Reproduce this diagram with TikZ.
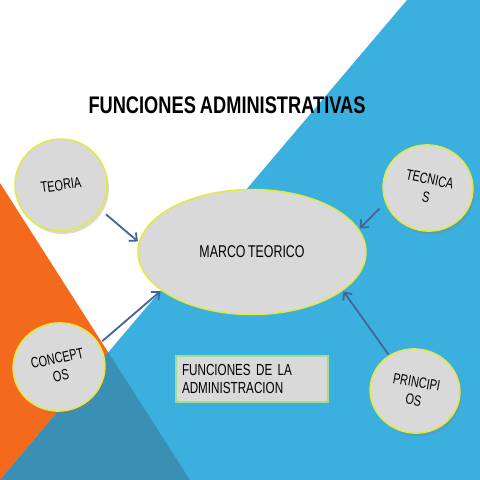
\documentclass[tikz,border=0pt]{standalone}
\usepackage{fontspec}
\setmainfont{Liberation Sans}
\newfontfamily\narrowfont[FakeStretch=0.73,WordSpace=0.7]{Liberation Sans}
\newfontfamily\titlefont[FakeStretch=0.76,WordSpace=0.8]{Liberation Sans}
\usetikzlibrary{shapes.geometric,shadows,arrows.meta}

\definecolor{skyblue}{HTML}{3BB0DE}
\definecolor{tealblue}{HTML}{3A8FB4}
\definecolor{slideorange}{HTML}{F36A1C}
\definecolor{bubblegray}{HTML}{D9D9D9}
\definecolor{rimyellow}{HTML}{E3EA3E}
\definecolor{boxgreen}{HTML}{A3DC8C}
\definecolor{arrowblue}{HTML}{44659B}

\tikzset{
    bubble/.style={ellipse, fill=bubblegray, draw=rimyellow, line width=1.5pt,
        inner sep=0pt, align=center, text=black,
        font=\narrowfont\fontsize{15pt}{18pt}\selectfont,
        drop shadow={opacity=0.3, shadow xshift=2pt, shadow yshift=-3pt}},
    link/.style={draw=arrowblue, line width=1.8pt}
}

\begin{document}
\begin{tikzpicture}[x=1pt, y=-1pt, >={Straight Barb[length=6pt,width=11pt]}, shorten >=1pt]

        \useasboundingbox (0,0) rectangle (480,480);
        \fill[white]       (0,0) rectangle (480,480);
        \fill[skyblue]     (407,0) -- (480,0) -- (480,480) -- (0,480) -- cycle;
        \fill[slideorange] (0,183) -- (108,352) -- (0,480) -- cycle;
        \fill[tealblue]    (108,352) -- (190,480) -- (0,480) -- cycle;

        \node (title) at (227,105) {\titlefont\bfseries\fontsize{24pt}{28pt}\selectfont FUNCIONES ADMINISTRATIVAS};

        \node[ellipse, fill=bubblegray, draw=rimyellow, line width=1.5pt, minimum width=228pt, minimum height=125pt,
              font=\narrowfont\fontsize{17pt}{20pt}\selectfont, text=black] (marco) at (252,252) {MARCO TEORICO};

        \node[bubble, minimum width=92pt, minimum height=92pt, rotate=8]   (teoria)  at (61,185)  {TEORIA};
        \node[bubble, minimum width=90pt, minimum height=86pt, rotate=-12] (tecnica) at (428,188) {TECNICA\\S};
        \node[bubble, minimum width=92pt, minimum height=88pt, rotate=12]  (concept) at (59,367)  {CONCEPT\\OS};
        \node[bubble, minimum width=90pt, minimum height=84pt, rotate=-10] (princip) at (415,391) {PRINCIPI\\OS};

        \node[rectangle, fill=bubblegray, draw=boxgreen, line width=1.5pt, inner sep=6pt, text width=140pt,
              minimum height=46pt, align=left, text=black,
              font=\narrowfont\fontsize{16pt}{18pt}\selectfont] (funciones) at (252,379) {FUNCIONES DE LA\\ADMINISTRACION};

        \path[->] (teoria.-40)  edge [link, shorten <=7pt] (marco.175)
              (concept.18)  edge [link, shorten <=4pt] (marco.203)
              (tecnica.211) edge [link, shorten <=8pt] (marco.12)
              (princip.136) edge [link, shorten <=1pt] (marco.337);

        \end{tikzpicture}
\end{document}
